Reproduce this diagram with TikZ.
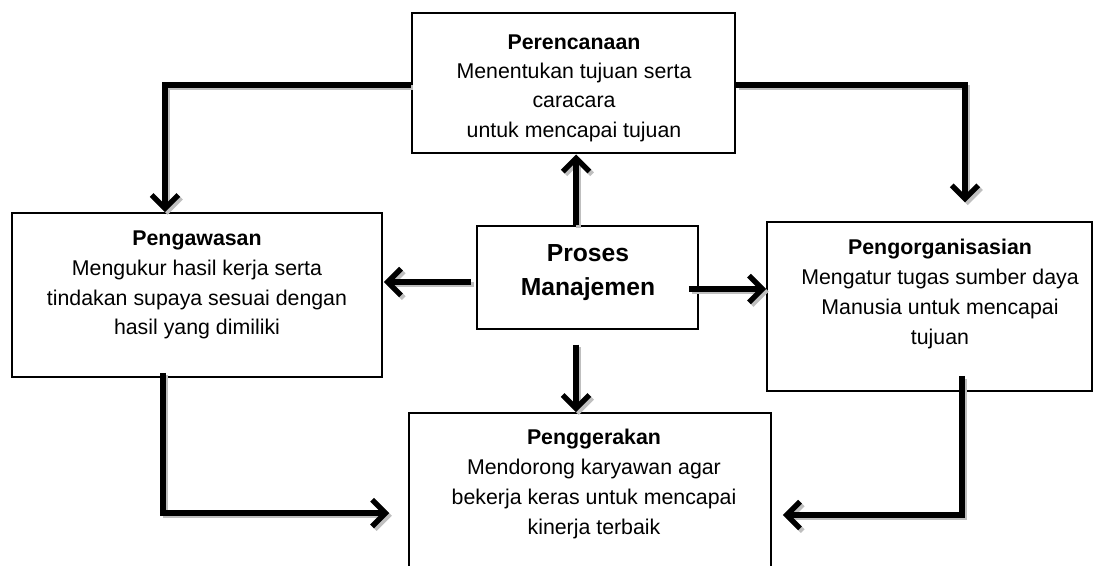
\documentclass[tikz,border=0pt]{standalone}
\usepackage{fontspec}
\setmainfont{Liberation Sans}
\usetikzlibrary{arrows.meta,calc}
\begin{document}
\begin{tikzpicture}[x=0.75pt,y=-0.75pt,
  box/.style={draw=black,line width=1.3pt,rectangle,inner sep=0pt},
  txt/.style={align=center,font=\fontsize{16}{22}\selectfont,inner sep=0pt},
  arr/.style={line width=4pt,-{Straight Barb[length=10pt,width=20pt,line width=4pt]},
    preaction={draw=gray!50,line width=4pt,-{Straight Barb[length=10pt,width=20pt,line width=4pt]},
      transform canvas={shift={(2pt,-2pt)}}}}]
\useasboundingbox (0,0) rectangle (1102,565);
% boxes
\node[box,line width=2.2pt,minimum width=323*0.75pt,minimum height=140*0.75pt] (per) at (573.5,83) {};
\node[box,minimum width=370*0.75pt,minimum height=164*0.75pt] (pengaw) at (197,295) {};
\node[box,minimum width=221*0.75pt,minimum height=103*0.75pt] (proses) at (587.5,277.5) {};
\node[box,minimum width=325*0.75pt,minimum height=169*0.75pt] (pengorg) at (929.5,306.5) {};
\node[box,minimum width=362*0.75pt,minimum height=187*0.75pt] (pengger) at (590,506.5) {};
% texts
\node[txt] (tper) at (574,88) {\textbf{Perencanaan}\\Menentukan tujuan serta\\caracara\\untuk mencapai tujuan};
\node[txt,font=\fontsize{16}{22.3}\selectfont] (tpengaw) at (197,285) {\textbf{Pengawasan}\\Mengukur hasil kerja serta\\tindakan supaya sesuai dengan\\hasil yang dimiliki};
\node[txt,font=\fontsize{18.5}{25.5}\bfseries\selectfont] (tproses) at (588,273) {Proses\\Manajemen};
\node[txt,font=\fontsize{16}{22.5}\selectfont] (tpengorg) at (940,294) {\textbf{Pengorganisasian}\\Mengatur tugas sumber daya\\Manusia untuk mencapai\\tujuan};
\node[txt,font=\fontsize{16}{22.5}\selectfont] (tpengger) at (594,484) {\textbf{Penggerakan}\\Mendorong karyawan agar\\bekerja keras untuk mencapai\\kinerja terbaik};
% connectors
\draw[arr] ([yshift=-1.5pt]per.west) -| ([xshift=-24pt]pengaw.north);
\draw[arr] ([yshift=-1.5pt]per.east) -| ([xshift=26.6pt,yshift=14pt]pengorg.north);
\draw[arr] ([xshift=-8.6pt]proses.north) -- ([xshift=-8.6pt]proses.north |- per.south);
\draw[arr] ([xshift=-3.8pt,yshift=-3.4pt]proses.west) -- ([xshift=0.8pt,yshift=-3.4pt]proses.west -| pengaw.east);
\draw[arr] ([xshift=-7.5pt,yshift=-8.6pt]proses.east) -- ([yshift=-8.6pt]proses.east -| pengorg.west);
\draw[arr] ([xshift=-8.6pt,yshift=-11pt]proses.south) -- ([xshift=-8.6pt]proses.south |- pengger.north);
\draw[arr] ([xshift=-25.5pt,yshift=3.8pt]pengaw.south) |- ([xshift=-14.2pt,yshift=-4.9pt]pengger.west);
\draw[arr] ([xshift=24.4pt,yshift=12pt]pengorg.south) |- ([xshift=8.3pt,yshift=-6.4pt]pengger.east);
\end{tikzpicture}
\end{document}
